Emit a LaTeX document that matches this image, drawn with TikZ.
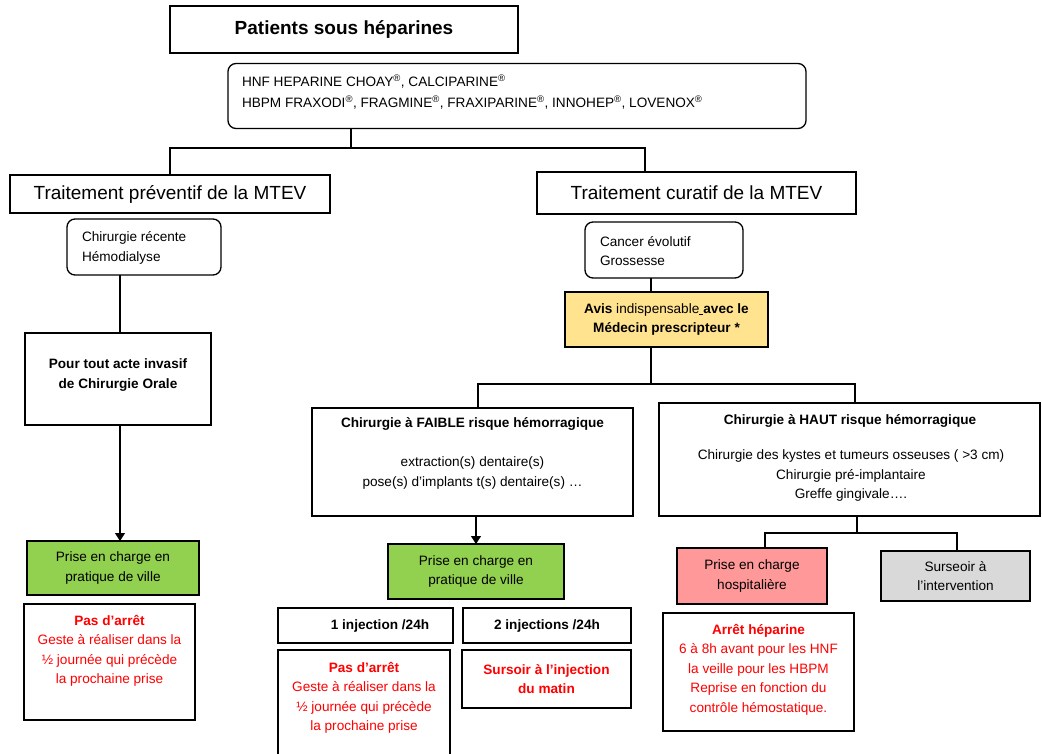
\documentclass[tikz,border=0pt]{standalone}
\usepackage{fontspec}
\setmainfont{Liberation Sans}
\usetikzlibrary{arrows.meta,calc}
\definecolor{vert}{HTML}{92D050}
\definecolor{jaune}{HTML}{FFE38F}
\definecolor{rose}{HTML}{FF9999}
\definecolor{gris}{HTML}{D9D9D9}
\definecolor{rouge}{HTML}{FF0000}
\newcommand\myBody{\fontsize{13.6}{19.5}\selectfont}
\newcommand\myBig{\fontsize{19}{23}\selectfont}
\begin{document}
\begin{tikzpicture}[x=1pt,y=-1pt,
  every node/.style={inner sep=0pt, outer sep=0pt},
  box/.style={draw=black, line width=1.3pt, rectangle},
  rbox/.style={box, rounded corners=8pt},
  thickbox/.style={draw=black, line width=2.7pt, rectangle},
  body/.style={font=\myBody, align=center},
  bbody/.style={font=\myBody\bfseries, align=center},
  big/.style={font=\myBig},
  link/.style={draw=black, line width=1.1pt},
  arrowlink/.style={link, -{Triangle[length=8pt,width=10pt]}}
]
\useasboundingbox (0,0) rectangle (1042,754);
\clip (0,0) rectangle (1042,754);
\fill[white] (0,0) rectangle (1042,754);

% top
\node[box, minimum width=348pt, minimum height=47pt, font=\myBig\bfseries] (titre) at (344,29.5) {Patients sous héparines};
\node[rbox, minimum width=578pt, minimum height=65pt] (hep) at (517,96) {};
\node[body, align=left, anchor=west] (heptxt) at (242,92) {HNF HEPARINE CHOAY\textsuperscript{®}, CALCIPARINE\textsuperscript{®}\\[1.5pt]HBPM FRAXODI\textsuperscript{®}, FRAGMINE\textsuperscript{®}, FRAXIPARINE\textsuperscript{®}, INNOHEP\textsuperscript{®}, LOVENOX\textsuperscript{®}};

\node[box, big, minimum width=320pt, minimum height=38pt] (prev) at (170,194) {Traitement préventif de la MTEV};
\node[box, big, minimum width=319pt, minimum height=42pt] (cur) at (696.5,193) {Traitement curatif de la MTEV};

% left branch
\node[rbox, minimum width=154pt, minimum height=56pt] (rec) at (144,247) {};
\node[body, align=left, anchor=west] (rectxt) at (82,248) {Chirurgie récente\\Hémodialyse};
\node[box, minimum width=186pt, minimum height=92pt] (acte) at (118,379) {};
\node[bbody] (actetxt) at (118,375) {Pour tout acte invasif\\de Chirurgie Orale};
\node[thickbox, fill=vert, body, minimum width=172pt, minimum height=54pt] (ville1) at (113,568) {Prise en charge en\\pratique de ville};
\node[thickbox, minimum width=171pt, minimum height=116pt] (arret1) at (109.5,662) {};
\node[body, text=rouge] (arret1txt) at (109.5,651) {\textbf{Pas d’arrêt}\\Geste à réaliser dans la\\½ journée qui précède\\la prochaine prise};

% right branch
\node[rbox, minimum width=158pt, minimum height=56pt] (canc) at (664,250) {};
\node[body, align=left, anchor=west] (canctxt) at (600,251) {Cancer évolutif\\Grossesse};
\node[thickbox, fill=jaune, body, minimum width=203pt, minimum height=55pt] (avis) at (666.5,319.5) {\textbf{Avis} indispensable\underline{\hspace{4pt}}\textbf{avec le}\\\textbf{Médecin prescripteur *}};

\node[box, minimum width=321pt, minimum height=108pt] (faible) at (472.5,462) {};
\node[bbody] (faibletit) at (472.5,424) {Chirurgie à FAIBLE risque hémorragique};
\node[body] (faibletxt) at (472.5,473) {extraction(s) dentaire(s)\\pose(s) d’implants t(s) dentaire(s) …};

\node[box, minimum width=381pt, minimum height=113pt] (haut) at (849.5,459.5) {};
\node[bbody] (hauttit) at (850,421) {Chirurgie à HAUT risque hémorragique};
\node[body] (hauttxt) at (851,475.5) {Chirurgie des kystes et tumeurs osseuses ( >3 cm)\\Chirurgie pré-implantaire\\Greffe gingivale….};

\node[thickbox, fill=vert, body, minimum width=176pt, minimum height=55pt] (ville2) at (476,571.5) {Prise en charge en\\pratique de ville};
\node[thickbox, bbody, minimum width=175pt, minimum height=35pt] (inj1) at (365.5,625.5) {\hspace*{29pt}1 injection /24h};
\node[thickbox, bbody, minimum width=168pt, minimum height=35pt] (inj2) at (547,625.5) {2 injections /24h};
\node[thickbox, minimum width=172pt, minimum height=125pt] (arret2) at (364,712.5) {};
\node[body, text=rouge] (arret2txt) at (364,698) {\textbf{Pas d’arrêt}\\Geste à réaliser dans la\\½ journée qui précède\\la prochaine prise};
\node[thickbox, bbody, text=rouge, minimum width=169pt, minimum height=58pt] (sursinj) at (546.5,679) {Sursoir à l’injection\\du matin};

\node[thickbox, fill=rose, body, minimum width=150pt, minimum height=56pt] (hosp) at (752,576) {Prise en charge\\hospitalière};
\node[thickbox, fill=gris, body, minimum width=149pt, minimum height=50pt] (surs) at (955.5,576) {Surseoir à\\l’intervention};
\node[thickbox, minimum width=191pt, minimum height=118pt] (arret3) at (758.5,672) {};
\node[body, text=rouge] (arret3txt) at (758.5,669.5) {\textbf{Arrêt héparine}\\6 à 8h avant pour les HNF\\la veille pour les HBPM\\Reprise en fonction du\\contrôle hémostatique.};

% connectors
\coordinate (j1) at (351,148);
\coordinate (j2) at (645,148);
\draw[link] (hep.south -| j1) -- (j1) -| (prev.north);
\draw[link] (j1) -- (j2) -- (j2 |- cur.north);

\coordinate (jl) at (120,300);
\draw[link] (rec.south -| jl) -- (acte.north -| jl);
\draw[arrowlink] (acte.south -| jl) -- (ville1.north -| jl);

\coordinate (j3) at (651,384);
\draw[link] (canc.south -| j3) -- (avis.north -| j3);
\draw[link] (avis.south -| j3) -- (j3);
\coordinate (j4) at (478,384);
\coordinate (j5) at (855,384);
\draw[link] (j4 |- faible.north) -- (j4) -- (j5) -- (j5 |- haut.north);
\draw[arrowlink] (faible.south -| ville2.north) -- (ville2.north);

\coordinate (j8) at (857,533);
\coordinate (j6) at (765,533);
\coordinate (j7) at (957,533);
\draw[link] (haut.south -| j8) -- (j8);
\draw[link] (j6 |- hosp.north) -- (j6) -- (j7) -- (j7 |- surs.north);
\end{tikzpicture}
\end{document}
